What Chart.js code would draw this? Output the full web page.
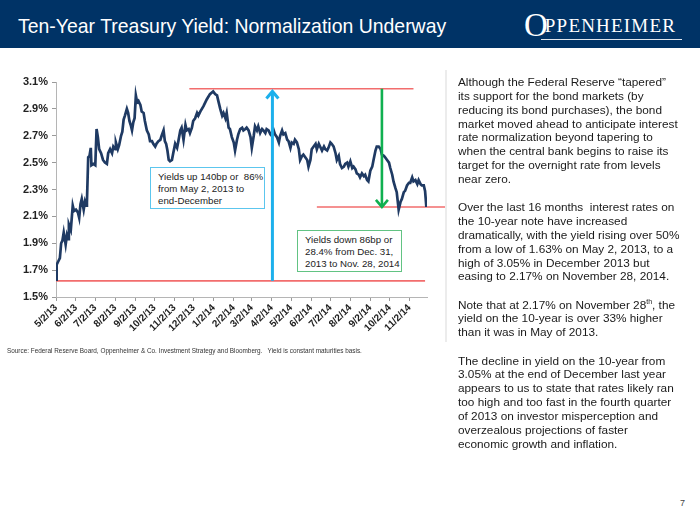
<!DOCTYPE html>
<html>
<head>
<meta charset="utf-8">
<script src="https://cdn.jsdelivr.net/npm/chart.js@4.4.1/dist/chart.umd.min.js"></script>
<style>
  body { margin:0; width:700px; height:525px; position:relative; background:#fff; overflow:hidden;
         font-family: Arial, "Liberation Sans", sans-serif; }
  #header { position:absolute; left:0; top:0; width:700px; height:48px; background:#003366; }
  #title { position:absolute; left:18px; top:15px; color:#fff; font-size:19.45px; white-space:nowrap; }
  #logo { position:absolute; left:524px; top:7px; color:#fff; font-family:"Liberation Serif", "DejaVu Serif", serif;
          font-size:19px; white-space:nowrap; letter-spacing:1.2px; }
  #logo .bigO { font-size:33px; vertical-align:-4px; margin-right:-3px; letter-spacing:0; }
  #logoLine { position:absolute; left:541px; top:39px; width:141px; height:1px; background:#dfe6ee; }
  #chartBox { position:absolute; left:0; top:50px; width:452px; height:300px; }
  #sep { position:absolute; left:445px; top:70px; width:2px; height:272px; background:#ececec; }
  .note { position:absolute; font-size:9.7px; color:#222; line-height:12px; background:#fff; padding:3px 7px; white-space:nowrap; }
  #upBox { left:150px; top:167px; width:99px; height:34px; border:1.5px solid #5cc6ee; }
  #downBox { left:297px; top:230px; width:89px; height:34px; border:1.5px solid #62c383; }
  #source { position:absolute; left:7px; top:347px; font-size:6.4px; color:#333; white-space:nowrap; }
  #text { position:absolute; left:458px; top:76px; font-size:11.8px; line-height:13.85px; color:#1a1a1a; white-space:nowrap; }
  #text p { margin:0 0 14.4px 0; }
  #text sup { font-size:7px; line-height:0; vertical-align:5px; }
  #page { position:absolute; left:680px; top:498px; font-size:9px; color:#444; }
</style>
</head>
<body>
<div id="header">
  <div id="title">Ten-Year Treasury Yield: Normalization Underway</div>
  <div id="logo"><span class="bigO">O</span>PPENHEIMER</div>
  <div id="logoLine"></div>
</div>

<div id="chartBox"><canvas id="chart" width="452" height="300"></canvas></div>
<div id="sep"></div>

<div id="upBox" class="note">Yields up 140bp or&nbsp; 86%<br>from May 2, 2013 to<br>end-December</div>
<div id="downBox" class="note">Yields down 86bp or<br>28.4% from Dec. 31,<br>2013 to Nov. 28, 2014</div>

<div id="source">Source: Federal Reserve Board, Oppenheimer &amp; Co. Investment Strategy and Bloomberg.&nbsp;&nbsp; Yield is constant maturities basis.</div>

<div id="text">
  <p>Although the Federal Reserve “tapered”<br>its support for the bond markets (by<br>reducing its bond purchases), the bond<br>market moved ahead to anticipate interest<br>rate normalization beyond tapering to<br>when the central bank begins to raise its<br>target for the overnight rate from levels<br>near zero.</p>
  <p>Over the last 16 months&nbsp; interest rates on<br>the 10-year note have increased<br>dramatically, with the yield rising over 50%<br>from a low of 1.63% on May 2, 2013, to a<br>high of 3.05% in December 2013 but<br>easing to 2.17% on November 28, 2014.</p>
  <p>Note that at 2.17% on November 28<sup>th</sup>, the<br>yield on the 10-year is over 33% higher<br>than it was in May of 2013.</p>
  <p>The decline in yield on the 10-year from<br>3.05% at the end of December last year<br>appears to us to state that rates likely ran<br>too high and too fast in the fourth quarter<br>of 2013 on investor misperception and<br>overzealous projections of faster<br>economic growth and inflation.</p>
</div>
<div id="page">7</div>

<script>
  // days since 5/2/13 and 10-year yield (%)
  const days = [0,1,4,6,8,10,12,15,17,19,20,23,26,28,31,34,36,38,40,43,45,47,48,50,52,54,55,58,61,63,65,67,70,73,76,79,81,84,87,89,92,93,96,98,101,103,105,107,110,112,114,116,118,120,122,124,126,128,131,133,136,138,141,144,146,149,151,154,156,159,162,164,167,169,171,173,175,177,180,182,185,188,190,193,195,198,201,203,206,208,211,213,216,219,221,224,229,234,239,244,247,250,252,255,258,260,263,265,268,270,273,276,278,281,283,286,289,291,294,296,299,302,304,307,309,312,314,317,320,322,325,327,330,333,335,338,340,343,346,348,351,353,356,359,361,364,366,369,371,374,377,379,382,384,387,390,392,395,397,400,403,405,408,410,413,416,418,421,423,426,428,431,434,436,439,441,444,447,449,452,454,457,460,462,465,467,470,472,475,478,480,483,485,488,491,493,496,498,501,504,506,509,511,514,517,519,522,524,527,529,532,535,537,540,542,545,548,550,553,555,558,561,563,566,568,571,573,575];
  const yields = [1.63,1.74,1.77,1.79,1.90,1.92,1.98,1.89,1.96,1.93,2.04,2.00,2.18,2.14,2.15,2.13,2.09,2.19,2.23,2.15,2.21,2.18,2.20,2.54,2.55,2.61,2.48,2.49,2.48,2.75,2.69,2.60,2.57,2.52,2.50,2.49,2.57,2.60,2.57,2.62,2.60,2.65,2.60,2.63,2.70,2.73,2.82,2.85,2.90,2.87,2.81,2.78,2.74,2.80,2.83,3.00,2.95,2.96,2.93,2.88,2.87,2.81,2.74,2.71,2.66,2.66,2.64,2.62,2.64,2.66,2.67,2.70,2.74,2.66,2.64,2.59,2.52,2.51,2.52,2.57,2.64,2.61,2.66,2.74,2.76,2.67,2.78,2.74,2.75,2.72,2.76,2.81,2.83,2.87,2.85,2.88,2.92,2.97,3.01,3.03,3.01,3.00,2.96,2.90,2.85,2.87,2.83,2.87,2.76,2.75,2.69,2.65,2.59,2.67,2.71,2.75,2.76,2.74,2.75,2.76,2.74,2.69,2.61,2.70,2.77,2.74,2.77,2.72,2.75,2.74,2.72,2.75,2.74,2.71,2.70,2.74,2.71,2.69,2.65,2.70,2.74,2.71,2.72,2.67,2.66,2.61,2.65,2.64,2.67,2.65,2.60,2.52,2.55,2.56,2.54,2.52,2.47,2.52,2.60,2.62,2.64,2.60,2.64,2.62,2.59,2.62,2.60,2.59,2.61,2.65,2.64,2.62,2.57,2.52,2.55,2.49,2.46,2.47,2.49,2.50,2.47,2.51,2.46,2.47,2.45,2.42,2.41,2.39,2.42,2.40,2.41,2.37,2.36,2.44,2.47,2.52,2.59,2.62,2.62,2.60,2.56,2.55,2.54,2.52,2.50,2.46,2.41,2.36,2.31,2.28,2.15,2.21,2.23,2.28,2.29,2.33,2.35,2.35,2.39,2.36,2.37,2.34,2.37,2.34,2.33,2.33,2.29,2.17];

  // x ticks: month starts (days since 5/2/13)
  const tickDays = [0,31,61,92,123,153,184,214,245,276,304,335,365,396,426,457,488,518,549];
  const tickLabels = ['5/2/13','6/2/13','7/2/13','8/2/13','9/2/13','10/2/13','11/2/13','12/2/13','1/2/14','2/2/14','3/2/14','4/2/14','5/2/14','6/2/14','7/2/14','8/2/14','9/2/14','10/2/14','11/2/14'];
  const yTicks = [1.5,1.7,1.9,2.1,2.3,2.5,2.7,2.9,3.1];

  // reference lines [fromDay, toDay, yield]
  const redLines = [[207, 555, 3.05], [0, 573, 1.62], [405, 606, 2.17]];
  // arrows [day, fromYield, toYield]
  const upArrow = [336, 1.62, 3.03];
  const downArrow = [506, 3.05, 2.17];

  function arrow(ctx, x, y1, y2, color, w) {
    const dir = y2 < y1 ? 1 : -1;
    ctx.save();
    ctx.strokeStyle = color;
    ctx.lineWidth = w;
    ctx.beginPath();
    ctx.moveTo(x, y1);
    ctx.lineTo(x, y2);
    ctx.stroke();
    ctx.beginPath();
    ctx.moveTo(x - 6, y2 + dir * 7);
    ctx.lineTo(x, y2);
    ctx.lineTo(x + 6, y2 + dir * 7);
    ctx.stroke();
    ctx.restore();
  }

  const marks = {
    id: 'marks',
    beforeDatasetsDraw(chart) {
      const ctx = chart.ctx, xs = chart.scales.x, ys = chart.scales.y;
      ctx.save();
      ctx.strokeStyle = '#f26d6d';
      ctx.lineWidth = 1.6;
      redLines.forEach(l => {
        ctx.beginPath();
        ctx.moveTo(xs.getPixelForValue(l[0]), ys.getPixelForValue(l[2]));
        ctx.lineTo(xs.getPixelForValue(l[1]), ys.getPixelForValue(l[2]));
        ctx.stroke();
      });
      ctx.restore();
    },
    afterDatasetsDraw(chart) {
      const ctx = chart.ctx, xs = chart.scales.x, ys = chart.scales.y;
      arrow(ctx, xs.getPixelForValue(upArrow[0]), ys.getPixelForValue(upArrow[1]), ys.getPixelForValue(upArrow[2]), '#1cb0ec', 3);
      arrow(ctx, xs.getPixelForValue(downArrow[0]), ys.getPixelForValue(downArrow[1]), ys.getPixelForValue(downArrow[2]), '#10b050', 2.6);
    }
  };

  new Chart(document.getElementById('chart'), {
    type: 'line',
    data: {
      datasets: [{
        data: days.map((d, i) => ({ x: d, y: yields[i] })),
        borderColor: '#1f3a63',
        borderWidth: 2.7,
        pointRadius: 0,
        tension: 0,
        fill: false
      }]
    },
    options: {
      responsive: false,
      animation: false,
      devicePixelRatio: 1,
      layout: { padding: { top: 32, right: 25, left: 0, bottom: 0 } },
      plugins: { legend: { display: false }, tooltip: { enabled: false } },
      scales: {
        x: {
          type: 'linear',
          min: 0,
          max: 576,
          afterBuildTicks: s => { s.ticks = tickDays.map(v => ({ value: v })); },
          afterFit: s => { s.height = 53; },
          grid: { drawOnChartArea: false, drawTicks: true, tickLength: 4, color: '#9a9a9a' },
          border: { color: '#b5b5b5', width: 1 },
          ticks: {
            autoSkip: false,
            maxRotation: 45,
            minRotation: 45,
            padding: 1,
            color: '#222',
            font: { family: 'Arial, "Liberation Sans"', size: 10, weight: 'bold' },
            callback: (v, i) => tickLabels[i]
          }
        },
        y: {
          min: 1.5,
          max: 3.1,
          afterBuildTicks: s => { s.ticks = yTicks.map(v => ({ value: v })); },
          afterFit: s => { s.width = 56; },
          grid: { drawOnChartArea: false, drawTicks: true, tickLength: 4, color: '#9a9a9a' },
          border: { color: '#b5b5b5', width: 1 },
          ticks: {
            padding: 4,
            color: '#222',
            font: { family: 'Arial, "Liberation Sans"', size: 11, weight: 'bold' },
            callback: v => v.toFixed(1) + '%'
          }
        }
      }
    },
    plugins: [marks]
  });
</script>
</body>
</html>
